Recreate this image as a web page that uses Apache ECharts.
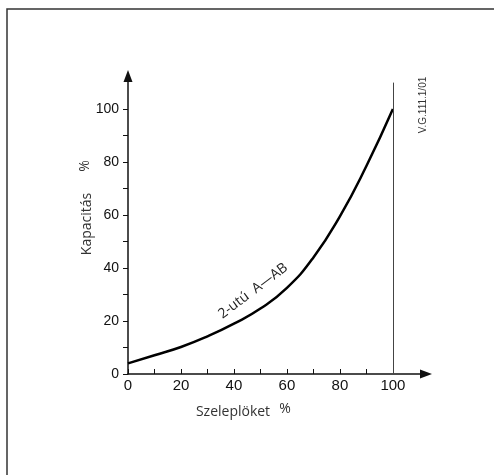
<!DOCTYPE html>
<html>
<head>
<meta charset="utf-8">
<script src="https://cdn.jsdelivr.net/npm/echarts@6/dist/echarts.min.js"></script>
<style>
  html, body { margin: 0; padding: 0; background: #fff; }
  #chart { width: 494px; height: 475px; }
</style>
</head>
<body>
<div id="chart"></div>
<script>
// szelepl\u00f6ket (x) es kapacit\u00e1s (y), leolvasva az abrarol
const stroke = [0, 10, 20, 30, 40, 50, 60, 70, 80, 90, 100];
const capacity = [4, 7.1, 10.2, 14.2, 19, 24.7, 32.5, 44, 59.5, 78.5, 100];
const tickValues = [0, 10, 20, 30, 40, 50, 60, 70, 80, 90, 100];
const labelValues = [0, 20, 40, 60, 80, 100];
const curveName = '2-ut\u00fa  A\u2014AB';

const chart = echarts.init(document.getElementById('chart'));

const axisCommon = {
  type: 'value',
  min: 0,
  max: 112.5,
  splitLine: { show: false },
  axisLine: {
    show: true,
    onZero: false,
    symbol: ['none', 'triangle'],
    symbolSize: [9, 12],
    lineStyle: { color: '#111', width: 1.5 }
  }
};

const option = {
  animation: false,
  backgroundColor: '#fff',
  grid: { left: 128, right: 68, top: 76, bottom: 101 },
  xAxis: Object.assign({}, axisCommon, {
    axisTick: { show: true, inside: true, length: 5, customValues: tickValues, lineStyle: { color: '#111' } },
    axisLabel: {
      margin: 4, customValues: labelValues,
      fontFamily: 'Liberation Sans', fontSize: 15, color: '#111'
    }
  }),
  yAxis: Object.assign({}, axisCommon, {
    axisTick: { show: true, inside: false, length: 5, customValues: tickValues, lineStyle: { color: '#111' } },
    axisLabel: {
      margin: 9, customValues: labelValues,
      fontFamily: 'Liberation Sans', fontSize: 14, color: '#111'
    }
  }),
  series: [
    {
      type: 'line',
      data: stroke.map((x, i) => [x, capacity[i]]),
      smooth: true,
      showSymbol: false,
      lineStyle: { color: '#000', width: 2.5 },
      markLine: {
        silent: true,
        symbol: 'none',
        label: { show: false },
        lineStyle: { color: '#444', width: 1, type: 'solid' },
        data: [[{ coord: [100, 0] }, { coord: [100, 110] }]]
      }
    }
  ],
  graphic: [
    // kulso keret
    {
      type: 'rect',
      shape: { x: 7, y: 9, width: 520, height: 520 },
      style: { fill: 'none', stroke: '#333', lineWidth: 1.5 },
      silent: true
    },
    {
      type: 'text', x: 87, y: 224, rotation: Math.PI / 2,
      style: { text: 'Kapacit\u00e1s', font: '14px "Open Sans"', fill: '#333', align: 'center', verticalAlign: 'middle' }
    },
    {
      type: 'text', x: 85, y: 166, rotation: Math.PI / 2,
      style: { text: '%', font: '14px "Open Sans"', fill: '#333', align: 'center', verticalAlign: 'middle' }
    },
    {
      type: 'text', x: 233, y: 412,
      style: { text: 'Szelepl\u00f6ket', font: '14px "Open Sans"', fill: '#333', align: 'center', verticalAlign: 'middle' }
    },
    {
      type: 'text', x: 285, y: 409,
      style: { text: '%', font: '14px "Open Sans"', fill: '#333', align: 'center', verticalAlign: 'middle' }
    },
    {
      type: 'text', x: 253, y: 291, rotation: 37 * Math.PI / 180,
      style: { text: curveName, font: '14px "Open Sans"', fill: '#222', align: 'center', verticalAlign: 'middle' }
    },
    {
      type: 'text', x: 423, y: 105, rotation: Math.PI / 2,
      style: { text: 'V.G.111.1/01', font: '10px "Liberation Sans"', fill: '#333', align: 'center', verticalAlign: 'middle' }
    }
  ]
};

chart.setOption(option);
</script>
</body>
</html>
